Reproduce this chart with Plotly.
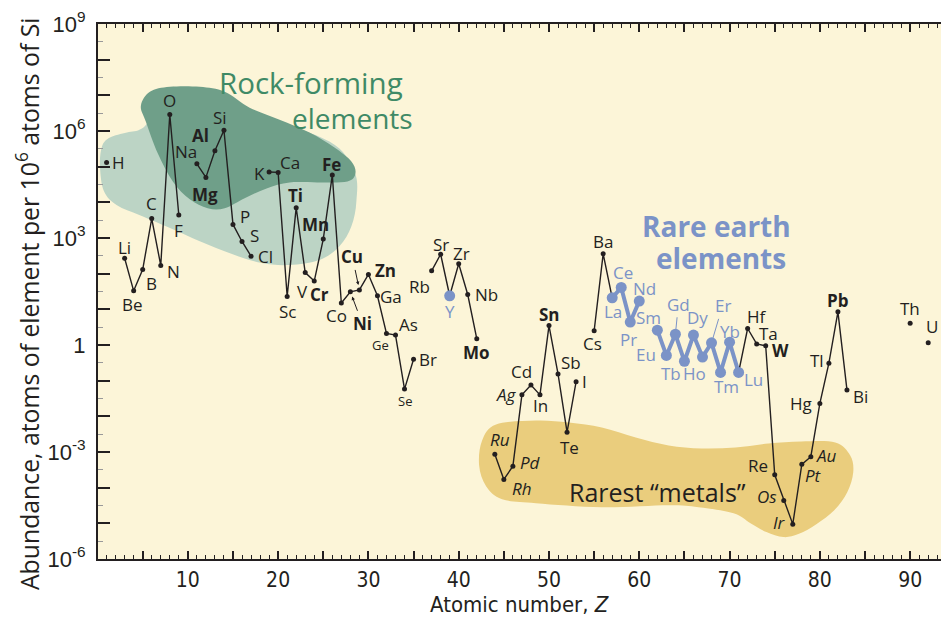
import math
import plotly.graph_objects as go

# ---------------- data ----------------
Z = [1, 3, 4, 5, 6, 7, 8, 9, 11, 12, 13, 14, 15, 16, 17, 19, 20, 21, 22, 23, 24, 25, 26,
     27, 28, 29, 30, 31, 32, 33, 34, 35, 37, 38, 39, 40, 41, 42, 44, 45, 46, 47, 48, 49,
     50, 51, 52, 53, 55, 56, 57, 58, 59, 60, 62, 63, 64, 65, 66, 67, 68, 69, 70, 71, 72,
     73, 74, 75, 76, 77, 78, 79, 80, 81, 82, 83, 90, 92]
symbols = ["H", "Li", "Be", "B", "C", "N", "O", "F", "Na", "Mg", "Al", "Si", "P", "S", "Cl",
           "K", "Ca", "Sc", "Ti", "V", "Cr", "Mn", "Fe", "Co", "Ni", "Cu", "Zn", "Ga", "Ge",
           "As", "Se", "Br", "Rb", "Sr", "Y", "Zr", "Nb", "Mo", "Ru", "Rh", "Pd", "Ag", "Cd",
           "In", "Sn", "Sb", "Te", "I", "Cs", "Ba", "La", "Ce", "Pr", "Nd", "Sm", "Eu", "Gd",
           "Tb", "Dy", "Ho", "Er", "Tm", "Yb", "Lu", "Hf", "Ta", "W", "Re", "Os", "Ir", "Pt",
           "Au", "Hg", "Tl", "Pb", "Bi", "Th", "U"]
abundance = [1.3e5, 2.7e2, 33, 1.3e2, 3.5e3, 1.7e2, 2.9e6, 4.4e3, 1.2e5, 5.0e4, 2.8e5, 1.05e6,
             2.4e3, 8.0e2, 3.1e2, 7.1e4, 6.9e4, 23, 7.1e3, 1.07e2, 62, 9.3e2, 5.8e4,
             15, 31, 35, 95, 24, 2.1, 1.9, 0.058, 0.40, 1.2e2, 3.5e2, 24, 1.9e2, 26, 1.5,
             8.7e-4, 1.7e-4, 4.0e-4, 0.040, 0.076, 0.040, 3.5, 0.155, 3.6e-3, 0.093,
             2.5, 3.6e2, 21, 41, 4.4, 17, 2.6, 0.51, 2.0, 0.35, 1.9, 0.46, 1.15, 0.17, 1.2,
             0.17, 2.9, 1.07, 0.95, 2.3e-4, 4.4e-5, 9.5e-6, 4.5e-4, 7.4e-4, 0.023, 0.31,
             8.5, 0.055, 4.1, 1.15]

black_groups = [["H"], ["Li", "Be", "B", "C", "N", "O", "F"],
                ["Na", "Mg", "Al", "Si", "P", "S", "Cl"],
                ["K", "Ca", "Sc", "Ti", "V", "Cr", "Mn", "Fe", "Co", "Ni", "Cu", "Zn", "Ga",
                 "Ge", "As", "Se", "Br"],
                ["Rb", "Sr", "Y", "Zr", "Nb", "Mo"],
                ["Ru", "Rh", "Pd", "Ag", "Cd", "In", "Sn", "Sb", "Te", "I"],
                ["Cs", "Ba", "La"],
                ["Lu", "Hf", "Ta", "W", "Re", "Os", "Ir", "Pt", "Au", "Hg", "Tl", "Pb", "Bi"],
                ["Th"], ["U"]]
blue_groups = [["La", "Ce", "Pr", "Nd"],
               ["Sm", "Eu", "Gd", "Tb", "Dy", "Ho", "Er", "Tm", "Yb", "Lu"]]
blue_points = ["Y"]

x_tick_values = list(range(5, 100, 5))
x_tick_labels = [str(v) if v % 10 == 0 else "" for v in x_tick_values]
y_decades = list(range(-6, 10))
y_tick_labels = [("1" if k == 0 else "10<sup>%d</sup>" % k) if k % 3 == 0 else ""
                 for k in y_decades]

# ---------------- styling / layout ----------------
W, H = 949, 617
OFF = 8  # page body margin: screen = figure + OFF
S_L, S_T, S_B = 98, 22, 559          # plot edges in screen pixels
PLOT_L, PLOT_T, PLOT_B = S_L - OFF, S_T - OFF, S_B - OFF
PLOT_R = W                            # plot runs past the visible edge
PLOT_W, PLOT_H = PLOT_R - PLOT_L, PLOT_B - PLOT_T
X_RANGE = [0.05, 0.05 + PLOT_W / 9.05]
Y_RANGE = [-6, 9]

FONT = "Open Sans, Liberation Sans, Arial, sans-serif"
TICKF = "Liberation Sans, Arial, sans-serif"
NARROW = "Liberation Sans Narrow, Arial Narrow, DejaVu Sans Condensed, Liberation Sans, sans-serif"
BLACK = "#231f20"
BLUE = "#7b93c7"
GREEN_TXT = "#3f8a66"
CREAM = "#fcf5d8"
DARK_GREEN = "#6f9f89"
LIGHT_GREEN = "#bcd4c5"
GOLD = "#eacd7d"

val = dict(zip(symbols, abundance))
zof = dict(zip(symbols, Z))

fig = go.Figure()


def dom(x, y):
    """screen pixel -> subplot domain fraction"""
    return (x - OFF - PLOT_L) / PLOT_W, (PLOT_B - (y - OFF)) / PLOT_H


def smooth_path(pts):
    n = len(pts)
    P = pts
    segs = []
    x0, y0 = dom(*P[0])
    segs.append("M%.5f,%.5f" % (x0, y0))
    for i in range(n):
        p0 = P[(i - 1) % n]
        p1 = P[i]
        p2 = P[(i + 1) % n]
        p3 = P[(i + 2) % n]
        c1 = (p1[0] + (p2[0] - p0[0]) / 6.0, p1[1] + (p2[1] - p0[1]) / 6.0)
        c2 = (p2[0] - (p3[0] - p1[0]) / 6.0, p2[1] - (p3[1] - p1[1]) / 6.0)
        a = dom(*c1)
        b = dom(*c2)
        c = dom(*p2)
        segs.append("C%.5f,%.5f %.5f,%.5f %.5f,%.5f" % (a[0], a[1], b[0], b[1], c[0], c[1]))
    segs.append("Z")
    return " ".join(segs)


light_pts = [(100, 165), (102, 145), (110, 136), (127, 131), (142, 127), (160, 110),
             (200, 100), (260, 115), (330, 140), (355, 170), (357, 200), (352, 225),
             (340, 245), (320, 259), (290, 264), (262, 262), (233, 253), (200, 240),
             (173, 228), (140, 214), (117, 204), (104, 190)]
dark_pts = [(141, 104), (150, 90), (170, 85), (200, 85), (225, 90), (250, 106), (280, 118),
            (310, 131), (335, 146), (352, 160), (356, 172), (348, 180), (320, 181),
            (290, 181), (267, 187), (245, 197), (225, 207), (208, 207), (190, 198),
            (173, 180), (158, 152), (146, 120)]
gold_pts = [(480, 465), (483, 440), (497, 424), (537, 420), (570, 422), (603, 427),
            (637, 437), (670, 445), (703, 448), (737, 447), (770, 443), (803, 441),
            (837, 442), (852, 455), (855, 472), (849, 492), (836, 510), (818, 524),
            (800, 534), (785, 537), (768, 532), (752, 523), (735, 513), (700, 507),
            (670, 505), (603, 507), (537, 503), (503, 499), (487, 486)]

shapes = []
for pts, col in [(light_pts, LIGHT_GREEN), (dark_pts, DARK_GREEN), (gold_pts, GOLD)]:
    shapes.append(dict(type="path", xref="x domain", yref="y domain", path=smooth_path(pts),
                       fillcolor=col, line=dict(width=0), layer="below"))

# black connecting lines
bx, by = [], []
for g in black_groups:
    for s in g:
        bx.append(zof[s])
        by.append(val[s])
    bx.append(None)
    by.append(None)
fig.add_trace(go.Scatter(x=bx, y=by, mode="lines", line=dict(color=BLACK, width=1.4),
                         hoverinfo="skip", showlegend=False))
blue_set = set(sum(blue_groups, [])) | set(blue_points)
kx = [zof[s] for s in symbols if s not in blue_set]
ky = [val[s] for s in symbols if s not in blue_set]
fig.add_trace(go.Scatter(x=kx, y=ky, mode="markers", marker=dict(color=BLACK, size=5),
                         showlegend=False))
ux, uy = [], []
for g in blue_groups:
    for s in g:
        ux.append(zof[s])
        uy.append(val[s])
    ux.append(None)
    uy.append(None)
fig.add_trace(go.Scatter(x=ux, y=uy, mode="lines+markers", line=dict(color=BLUE, width=4),
                         marker=dict(color=BLUE, size=11), showlegend=False))
fig.add_trace(go.Scatter(x=[zof[s] for s in blue_points], y=[val[s] for s in blue_points],
                         mode="markers", marker=dict(color=BLUE, size=11), showlegend=False))

# label offsets (pixels, dy positive = down)
offsets = {
    "H": (12, 0), "Li": (0, -11), "Be": (-1, 14), "B": (9, 14), "C": (0, -15), "N": (13, 6),
    "O": (0, -14), "F": (0, 15), "Na": (-11, -12), "Mg": (-1, 17), "Al": (-14, -15),
    "Si": (-4, -13), "P": (12, -8), "S": (12, -6), "Cl": (14, 0), "K": (-10, 2),
    "Ca": (12, -10), "Sc": (0, 15), "Ti": (-1, -12), "V": (-3, 19), "Cr": (5, 13),
    "Mn": (-8, -15), "Fe": (-1, -11), "Co": (-5, 12), "Zn": (17, -4), "Ga": (14, 1),
    "Ge": (-6, 11), "As": (13, -11), "Se": (0, 12), "Br": (14, 0), "Rb": (-12, 16),
    "Sr": (0, -10), "Y": (0, 16), "Zr": (3, -10), "Nb": (19, 0), "Mo": (0, 14),
    "Ru": (5, -15), "Rh": (18, 9), "Pd": (18, -4), "Ag": (-15, 0), "Cd": (-9, -13),
    "In": (1, 11), "Sn": (0, -11), "Sb": (13, -11), "Te": (2, 15), "I": (8, 0),
    "Cs": (-2, 13), "Ba": (0, -12), "La": (1, 14), "Ce": (2, -15), "Pr": (-2, 17),
    "Nd": (5, -13), "Sm": (-9, -13), "Eu": (-20, -1), "Tb": (-13, 12), "Dy": (4, -18),
    "Ho": (-8, 16), "Tm": (6, 14), "Yb": (0, -11), "Lu": (15, 7), "Hf": (9, -12),
    "Ta": (12, -10), "W": (15, 5), "Re": (-17, -9), "Os": (-17, -4), "Ir": (-13, -2),
    "Pt": (12, 11), "Au": (16, -1), "Hg": (-19, 0), "Tl": (-12, -3), "Pb": (0, -11),
    "Bi": (14, 7), "Th": (0, -15), "U": (4, -16),
}
arrows = {"Cu": (-7, -33, BLACK, 2), "Ni": (12, 32, BLACK, 2),
          "Gd": (3, -30, BLUE, 0), "Er": (11, -37, BLUE, 0)}
bold = {"Al", "Mg", "Fe", "Ti", "Mn", "Cr", "Cu", "Zn", "Ni", "Mo", "Sn", "W", "Pb"}
italic = {"Ru", "Rh", "Pd", "Ag", "Os", "Ir", "Pt", "Au"}
small = {"Ge", "Se"}

ann = []
for s in symbols:
    txt = s
    if s in bold:
        txt = "<b>%s</b>" % s
    if s in italic:
        txt = "<i>%s</i>" % s
    col = BLUE if s in blue_set else BLACK
    size = 13 if s in small else 17
    xv, yv = zof[s], math.log10(val[s])
    if s in arrows:
        ax, ay, acol, head = arrows[s]
        ann.append(dict(x=xv, y=yv, xref="x", yref="y", text=txt, showarrow=True,
                        ax=ax, ay=ay, arrowcolor=acol, arrowwidth=1, arrowhead=head,
                        arrowsize=0.7, standoff=5, font=dict(family=FONT, size=size, color=col)))
    else:
        dx, dy = offsets[s]
        ann.append(dict(x=xv, y=yv, xref="x", yref="y", text=txt, showarrow=False,
                        xshift=dx, yshift=-dy, xanchor="center", yanchor="middle",
                        font=dict(family=FONT, size=size, color=col)))


def paper(x, y):
    return dom(x, y)


for text, (px, py), size, col in [
        ("Rock-forming", (311, 81), 29.5, GREEN_TXT),
        ("elements", (353, 116), 28, GREEN_TXT),
        ("<b>Rare earth</b>", (718, 225), 28, BLUE),
        ("<b>elements</b>", (722, 257), 28, BLUE),
        ("Rarest \u201cmetals\u201d", (659, 492), 25, BLACK)]:
    xx, yy = paper(px, py)
    ann.append(dict(x=xx, y=yy, xref="paper", yref="paper", text=text, showarrow=False,
                    xanchor="center", yanchor="middle",
                    font=dict(family=FONT, size=size, color=col)))

xx, yy = paper(27, 303)
ann.append(dict(x=xx, y=yy, xref="paper", yref="paper", textangle=-90, showarrow=False,
                text="Abundance, atoms of element per 10<sup>6</sup> atoms of Si",
                xanchor="center", yanchor="middle", font=dict(family=FONT, size=24.8, color=BLACK)))
xx, yy = paper(520, 605)
ann.append(dict(x=xx, y=yy, xref="paper", yref="paper", showarrow=False,
                text="Atomic number, <i>Z</i>", xanchor="center", yanchor="middle",
                font=dict(family=NARROW, size=22, color=BLACK)))

fig.update_layout(
    width=W, height=H,
    margin=dict(l=PLOT_L, r=W - PLOT_R, t=PLOT_T, b=H - PLOT_B),
    paper_bgcolor="white", plot_bgcolor=CREAM,
    showlegend=False, shapes=shapes, annotations=ann,
    xaxis=dict(range=X_RANGE, showgrid=False, zeroline=False, showline=True,
               linecolor=BLACK, linewidth=2, mirror="ticks", ticks="inside",
               tickmode="array", tickvals=x_tick_values, ticktext=x_tick_labels,
               ticklen=8, tickwidth=2, tickcolor=BLACK, ticklabelstandoff=1,
               ticklabeloverflow="allow",
               tickfont=dict(family=NARROW, size=21, color=BLACK),
               minor=dict(dtick=1, ticks="inside", ticklen=4, tickwidth=1, tickcolor=BLACK)),
    yaxis=dict(type="log", range=Y_RANGE, showgrid=False, zeroline=False, showline=True,
               linecolor=BLACK, linewidth=2, mirror="ticks", ticks="inside",
               tickmode="array", tickvals=[10 ** k for k in y_decades], ticktext=y_tick_labels,
               ticklen=12, tickwidth=2, tickcolor=BLACK, ticklabelstandoff=6,
               ticklabeloverflow="allow",
               tickfont=dict(family=TICKF, size=22, color=BLACK),
               minor=dict(tickmode="array", tickvals=[10 ** (k + 0.5) for k in y_decades[:-1]],
                          ticks="inside", ticklen=5, tickwidth=1, tickcolor="#999999")),
)

fig.write_html("out.html")
